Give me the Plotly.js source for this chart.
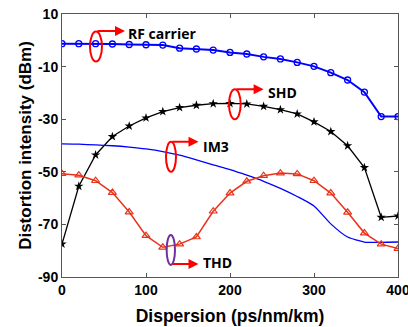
<!DOCTYPE html>
<html>
<head>
<meta charset="utf-8">
<script src="https://cdn.plot.ly/plotly-3.0.1.min.js"></script>
<style>html,body{margin:0;padding:0;background:#fff;}#chart{width:408px;height:327px;}</style>
</head>
<body>
<div id="chart"></div>
<script>
const dispersion = [0,20,40,60,80,100,120,140,160,180,200,220,240,260,280,300,320,340,360,380,400];
const rfCarrier = [-1.3,-1.3,-1.3,-1.4,-1.6,-1.7,-1.8,-3.0,-3.3,-3.7,-4.6,-5.2,-6.3,-7.1,-8.4,-9.9,-12.3,-15.1,-19.7,-29,-29];
const shd = [-77.5,-55.5,-43.6,-36.6,-32.6,-29.5,-27.1,-25.6,-24.7,-24.1,-24.0,-24.2,-25.1,-26.4,-28.0,-31.0,-34.7,-40.1,-48.4,-67.3,-66.8];
const thd = [-50.7,-51.3,-53.4,-57.9,-65.3,-74.3,-78.7,-77.5,-74.8,-65.0,-58.1,-53.6,-51.5,-50.5,-50.8,-53.4,-58.1,-65.4,-73.3,-77.5,-79.2];
const im3 = [-39.4,-39.5,-39.8,-40.1,-40.6,-41.3,-42.3,-43.7,-45.5,-47.4,-49.2,-51.3,-53.6,-56.3,-59.4,-63.0,-69.8,-74.8,-76.7,-76.8,-76.7];
const xTicks = [0,100,200,300,400];
const yTicks = [10,-10,-30,-50,-70,-90];

const blue = '#0000ff', red = '#e8331b', black = '#000000';
const traces = [
  {x: dispersion, y: rfCarrier, mode: 'lines+markers', name: 'RF carrier',
   line: {color: blue, width: 2}, marker: {symbol: 'circle-open', size: 6, color: blue, line: {width: 1.3}}},
  {x: dispersion, y: shd, mode: 'lines+markers', name: 'SHD',
   line: {color: black, width: 1.3}, marker: {symbol: 'star', size: 7, color: black}},
  {x: dispersion, y: im3, mode: 'lines', name: 'IM3', line: {color: blue, width: 1.3, shape: 'spline', smoothing: 0.6}},
  {x: dispersion, y: thd, mode: 'lines+markers', name: 'THD',
   line: {color: red, width: 1.5}, marker: {symbol: 'triangle-up-open', size: 7, color: red, line: {width: 1.2}}}
];

const font = {family: 'Liberation Sans, Arial, sans-serif', color: '#000'};
const noteFont = {family: 'Open Sans, sans-serif', color: '#000', size: 14};
function ellipse(x0, x1, y0, y1, color) {
  return {type: 'circle', xref: 'x', yref: 'y', x0: x0, x1: x1, y0: y0, y1: y1,
          line: {color: color, width: 2}, fillcolor: 'rgba(0,0,0,0)'};
}
function arrow(xTail, xHead, y) {
  return {x: xHead, y: y, ax: xTail, ay: y, xref: 'x', yref: 'y', axref: 'x', ayref: 'y',
          text: '', showarrow: true, arrowhead: 2, arrowsize: 1, arrowwidth: 2, arrowcolor: '#ff0000'};
}
function label(t, x, y) {
  return {x: x, y: y, xref: 'x', yref: 'y', text: '<b>' + t + '</b>', showarrow: false,
          xanchor: 'left', yanchor: 'middle', font: noteFont};
}

const layout = {
  width: 408, height: 327,
  margin: {l: 62, r: 10, t: 14, b: 50},
  paper_bgcolor: '#fff', plot_bgcolor: '#fff',
  showlegend: false,
  font: font,
  xaxis: {range: [0, 400], tickvals: xTicks, ticktext: xTicks.map(v => '<b>' + v + '</b>'),
          ticks: 'inside', ticklen: 4, tickcolor: '#555', showline: true, linecolor: '#555', linewidth: 1,
          mirror: 'ticks', showgrid: false, zeroline: false, tickfont: Object.assign({size: 14}, font),
          ticklabeloverflow: 'allow',
          title: {text: '<b>Dispersion (ps/nm/km)</b>', font: Object.assign({size: 17.5}, font), standoff: 12}},
  yaxis: {range: [-90, 10], tickvals: yTicks, ticktext: yTicks.map(v => '<b>' + v + '</b>'),
          ticks: 'inside', ticklen: 4, tickcolor: '#555', showline: true, linecolor: '#555', linewidth: 1,
          mirror: 'ticks', showgrid: false, zeroline: false, tickfont: Object.assign({size: 14}, font),
          title: {text: '<b>Distortion intensity (dBm)</b>', font: Object.assign({size: 17}, font), standoff: 2}},
  shapes: [
    ellipse(33.3, 47.6, 3.3, -8.1, '#ff0000'),
    ellipse(198.8, 212.7, -18.6, -30.0, '#ff0000'),
    ellipse(123.8, 135.7, -38.6, -50.0, '#ff0000'),
    ellipse(124.6, 134.5, -74.0, -85.4, '#7030a0')
  ],
  annotations: [
    arrow(40.5, 75, 3.5), label('RF carrier', 76, 2.4),
    arrow(206, 240, -18.6), label('SHD', 243, -19.8),
    arrow(129.8, 162.5, -38.6), label('IM3', 166, -40.2),
    arrow(129.8, 162.5, -85.1), label('THD', 165, -84.4)
  ]
};
Plotly.newPlot('chart', traces, layout, {displayModeBar: false, staticPlot: true});
</script>
</body>
</html>
